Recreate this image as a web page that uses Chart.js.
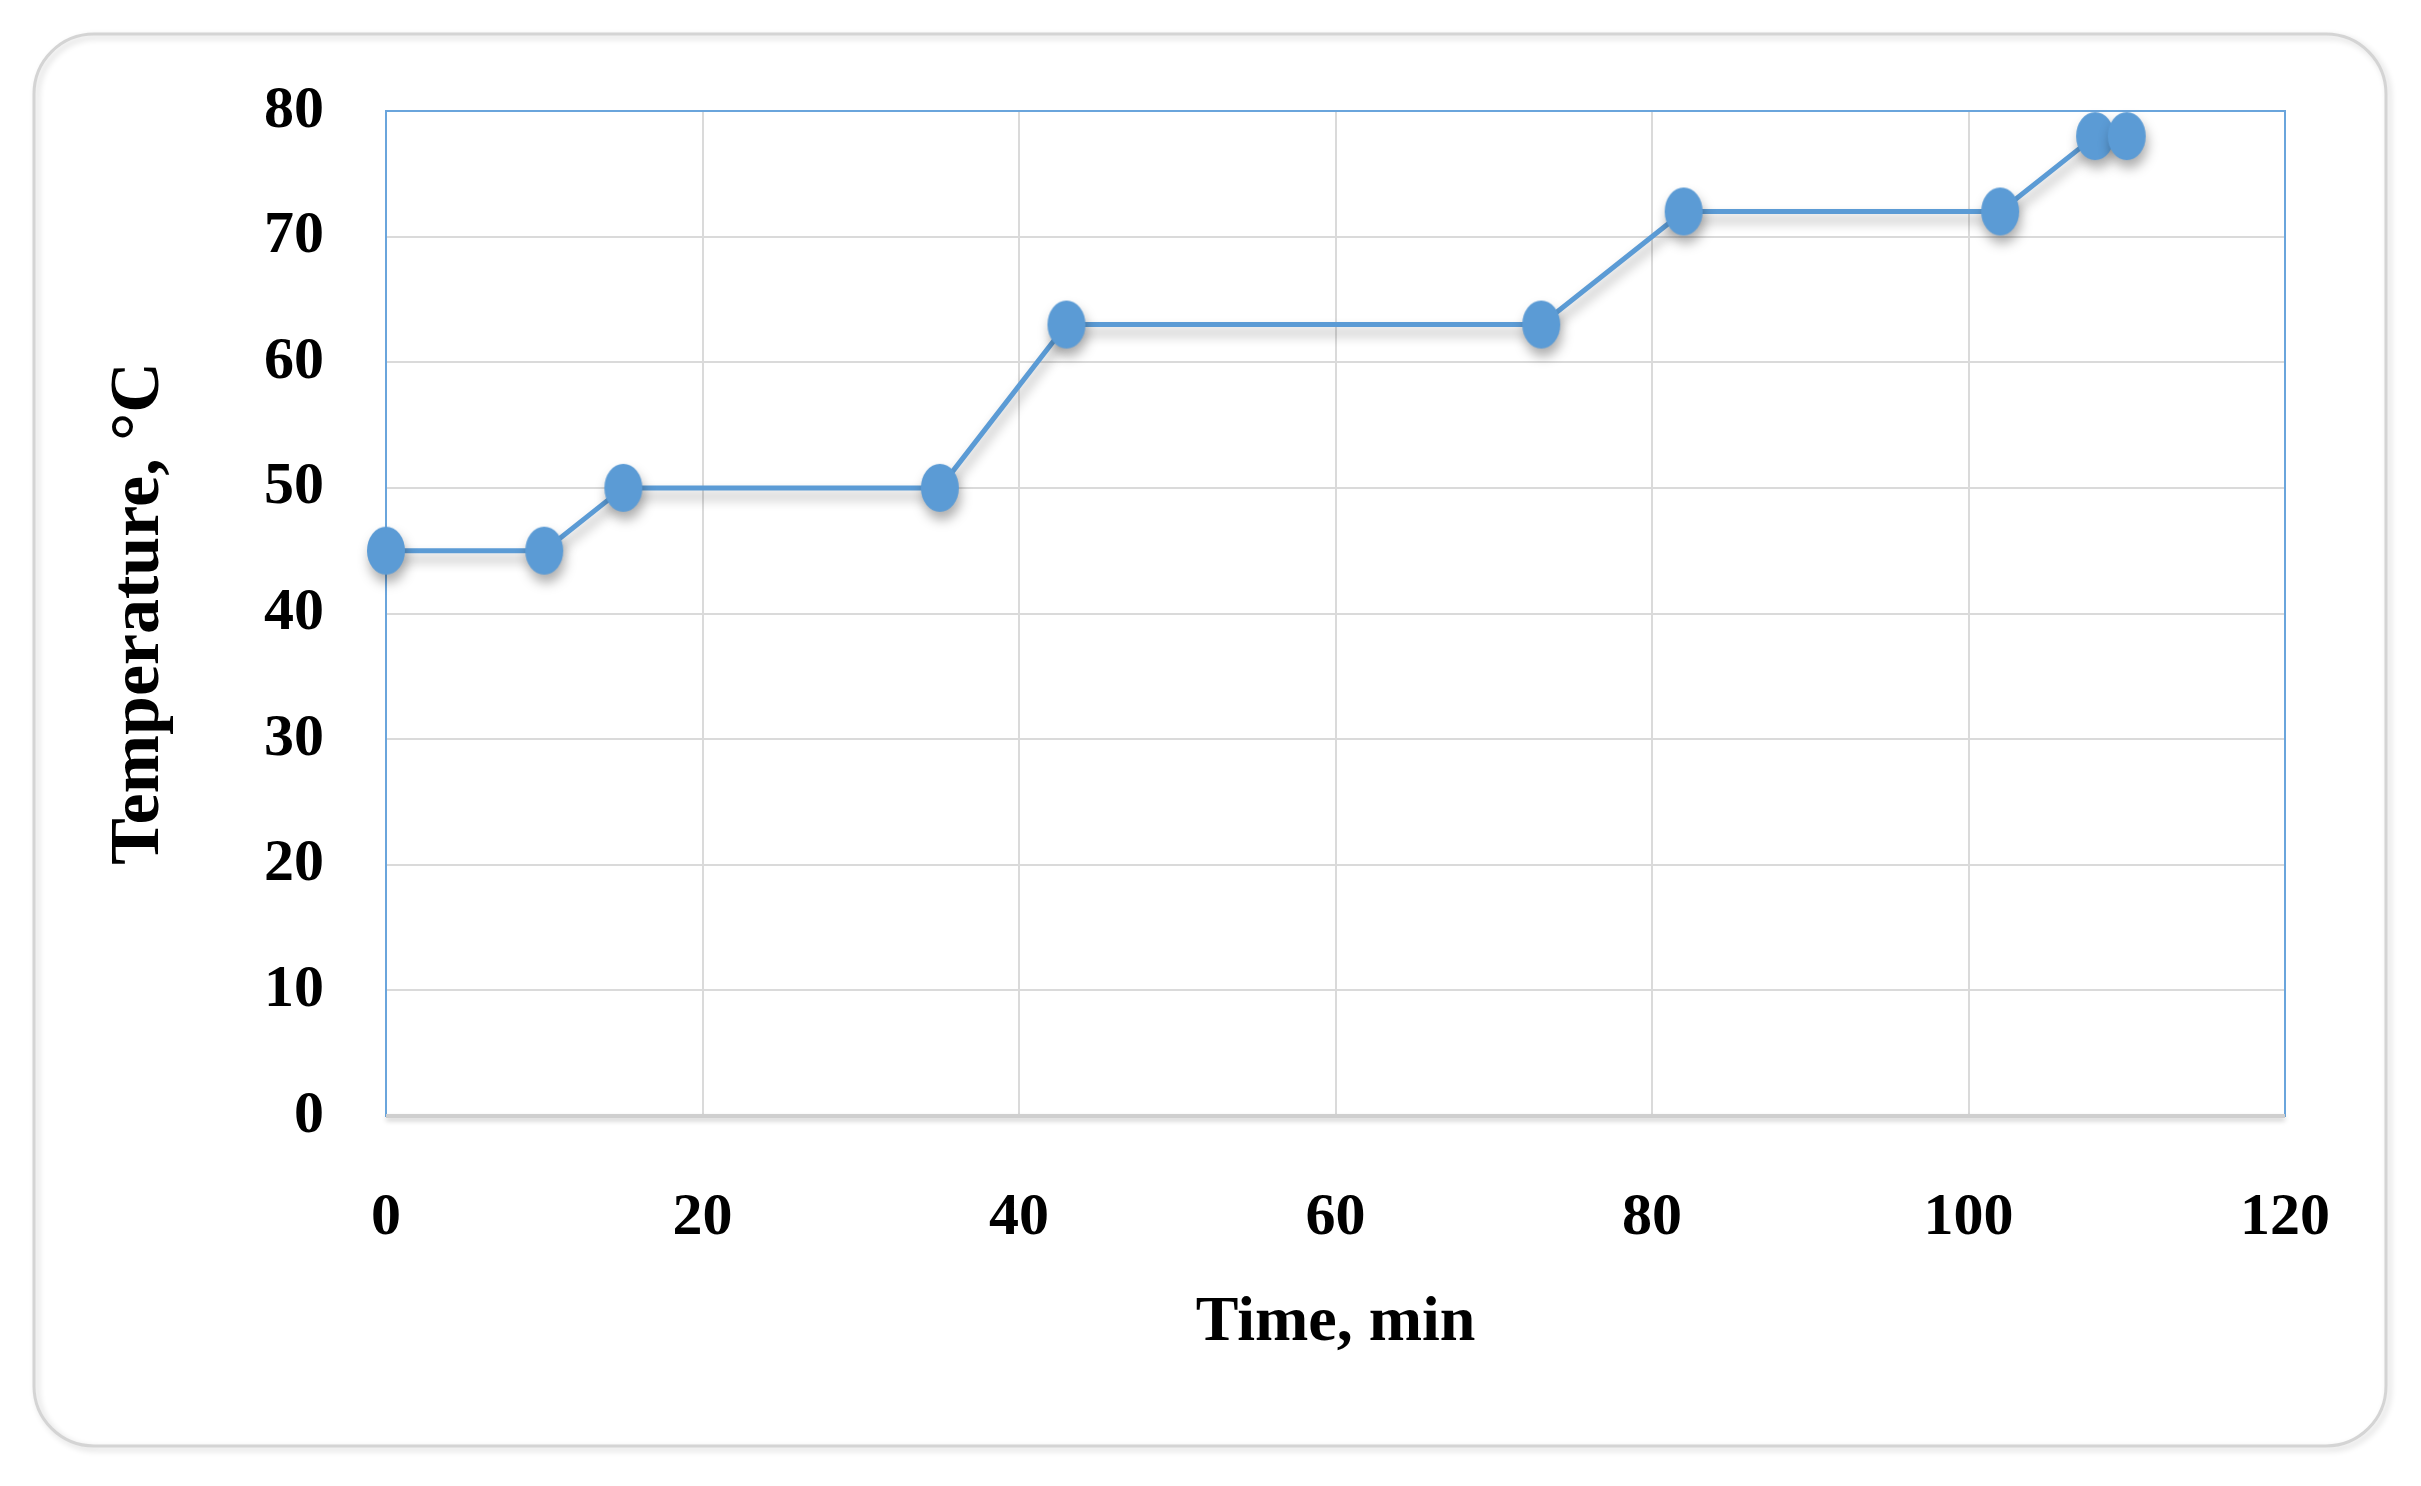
<!DOCTYPE html>
<html>
<head>
<meta charset="UTF-8">
<title>Temperature vs time</title>
<style>
  html, body { margin: 0; padding: 0; background: #fff; }
  #wrap { width: 2421px; height: 1486px; }
</style>
</head>
<body>
<div id="wrap"><canvas id="myChart"></canvas></div>
<script src="https://cdn.jsdelivr.net/npm/chart.js"></script>
<script>
// data
const timeMin = [0, 10, 15, 35, 43, 73, 82, 102, 108, 110];
const tempC = [45, 45, 50, 50, 63, 63, 72, 72, 78, 78];
const xTicks = [0, 20, 40, 60, 80, 100, 120];
const yTicks = [0, 10, 20, 30, 40, 50, 60, 70, 80];

const blue = '#5B9BD5';
const serif = "'Liberation Serif', 'DejaVu Serif', serif";

// oval marker (the original is stretched a bit vertically)
const marker = document.createElement('canvas');
marker.width = 40;
marker.height = 50;
const mctx = marker.getContext('2d');
mctx.fillStyle = blue;
mctx.beginPath();
mctx.ellipse(20, 25, 19, 24, 0, 0, Math.PI * 2);
mctx.fill();

// rounded frame round the whole picture
const framePlugin = {
  id: 'frame',
  beforeDraw(chart) {
    const ctx = chart.ctx;
    const x = 34, y = 34, w = 2352, h = 1412, r = 60;
    ctx.save();
    ctx.fillStyle = '#fff';
    ctx.fillRect(0, 0, chart.width, chart.height);
    ctx.shadowColor = 'rgba(0,0,0,0.18)';
    ctx.shadowBlur = 6;
    ctx.shadowOffsetX = 3;
    ctx.shadowOffsetY = 3;
    ctx.strokeStyle = '#d4d4d4';
    ctx.lineWidth = 3;
    ctx.beginPath();
    ctx.roundRect(x, y, w, h, r);
    ctx.stroke();
    ctx.restore();
  }
};

// blue plot border, grey base line, shadow under the series
const areaPlugin = {
  id: 'area',
  beforeDatasetsDraw(chart) {
    const {ctx, chartArea: a} = chart;
    ctx.save();
    ctx.strokeStyle = '#6AA5DC';
    ctx.lineWidth = 2;
    ctx.strokeRect(a.left, a.top, a.right - a.left, a.bottom - a.top);
    ctx.shadowColor = 'rgba(0,0,0,0.2)';
    ctx.shadowBlur = 5;
    ctx.shadowOffsetY = 3;
    ctx.strokeStyle = '#cfcfcf';
    ctx.lineWidth = 4;
    ctx.beginPath();
    ctx.moveTo(a.left, a.bottom);
    ctx.lineTo(a.right, a.bottom);
    ctx.stroke();
    ctx.restore();

    ctx.save();
    ctx.shadowColor = 'rgba(0,0,0,0.32)';
    ctx.shadowBlur = 12;
    ctx.shadowOffsetX = 2;
    ctx.shadowOffsetY = 8;
  },
  afterDatasetsDraw(chart) {
    chart.ctx.restore();
  }
};

const config = {
  type: 'scatter',
  data: {
    datasets: [{
      data: timeMin.map((t, i) => ({x: t, y: tempC[i]})),
      showLine: true,
      clip: false,
      borderColor: blue,
      borderWidth: 5,
      backgroundColor: blue,
      pointStyle: marker,
      pointRadius: 20,
      pointHoverRadius: 20
    }]
  },
  options: {
    responsive: true,
    maintainAspectRatio: false,
    animation: false,
    events: [],
    layout: { padding: { left: 98, right: 136, top: 111, bottom: 100 } },
    plugins: { legend: { display: false }, tooltip: { enabled: false } },
    scales: {
      x: {
        type: 'linear',
        min: 0,
        max: 120,
        afterBuildTicks: s => { s.ticks = xTicks.map(v => ({value: v})); },
        afterFit: s => { s.height = 270; },
        grid: { color: '#dadada', lineWidth: 2, drawTicks: false },
        border: { display: false },
        ticks: {
          padding: 66,
          color: '#000',
          font: { family: serif, size: 60, weight: 'bold' }
        },
        title: {
          display: true,
          text: 'Time, min',
          color: '#000',
          font: { family: serif, size: 64, weight: 'bold' },
          padding: { top: 0, bottom: 24 }
        }
      },
      y: {
        type: 'linear',
        min: 0,
        max: 80,
        afterBuildTicks: s => { s.ticks = yTicks.map(v => ({value: v})); },
        afterFit: s => { s.width = 288; },
        grid: { color: '#dadada', lineWidth: 2, drawTicks: false },
        border: { display: false },
        ticks: {
          padding: 62,
          color: '#000',
          font: { family: serif, size: 60, weight: 'bold' }
        },
        title: {
          display: true,
          text: 'Temperature, °C',
          color: '#000',
          font: { family: serif, size: 70, weight: 'bold' },
          padding: { top: 0, bottom: 0 }
        }
      }
    }
  },
  plugins: [framePlugin, areaPlugin]
};

const myChart = new Chart(document.getElementById('myChart'), config);
</script>
</body>
</html>
